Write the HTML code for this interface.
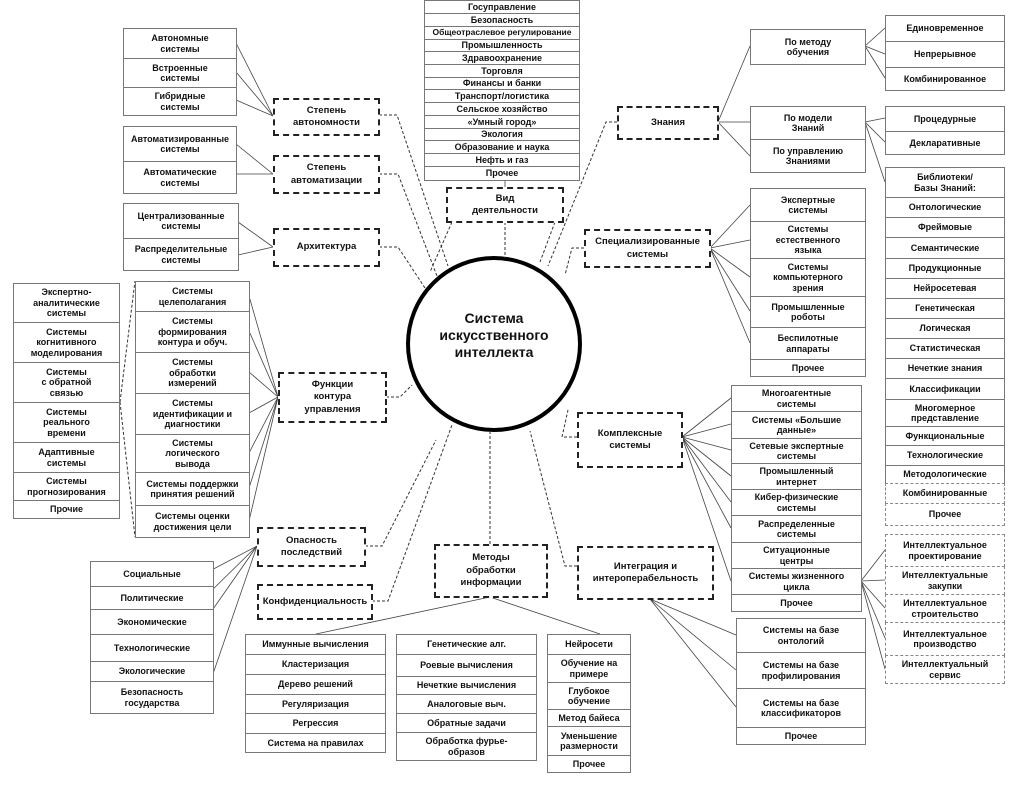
<!DOCTYPE html>
<html><head><meta charset="utf-8"><style>
body{margin:0;background:#fff}
#w{position:relative;width:1025px;height:786px;overflow:hidden;font-family:"Liberation Sans",Arial,sans-serif;font-weight:bold;font-size:9px;color:#111}
.c{position:absolute;box-sizing:border-box;border:1px solid #777;display:flex;align-items:center;justify-content:center;text-align:center;line-height:1.15;background:#fff}
.d{position:absolute;box-sizing:border-box;border:2px dashed #222;display:flex;align-items:center;justify-content:center;text-align:center;line-height:1.3;background:#fff;font-size:9.5px}
.g{border:1px dashed #888}
svg{position:absolute;left:0;top:0}
</style></head><body><div id="w">
<svg width="1025" height="786">
<circle cx="494" cy="344" r="86" fill="none" stroke="#000" stroke-width="4"/>
<g stroke="#333" stroke-width="1" fill="none" stroke-dasharray="3,2">
<polyline points="379,115 397,115 448,266"/>
<polyline points="379,174 398,174 437,276"/>
<polyline points="379,247 398,247 425,288"/>
<polyline points="386,397 400,397 412,385"/>
<polyline points="365,546 382,546 436,440"/>
<polyline points="372,601 388,601 452,425"/>
<polyline points="490,544 490,431"/>
<polyline points="452,222 430,272"/>
<polyline points="505,222 505,258"/>
<polyline points="555,222 540,262"/>
<polyline points="617,122 606,122 548,266"/>
<polyline points="584,248 572,248 565,275"/>
<polyline points="577,437 562,437 568,410"/>
<polyline points="577,566 565,566 530,431"/>
<polyline points="120,402 135,281"/>
<polyline points="120,402 135,537"/>
</g>
<g stroke="#444" stroke-width="0.8" fill="none">
<path d="M273,116L236,43M273,116L236,72M273,116L236,100"/>
<path d="M273,174L236,144M273,174L236,174"/>
<path d="M273,247L238,222M273,247L238,255"/>
<path d="M278,397L249,296M278,397L249,331M278,397L249,372M278,397L249,413M278,397L249,453M278,397L249,488M278,397L249,521"/>
<path d="M257,546L204,574M257,546L204,598M257,546L204,622M257,546L204,700"/>
<path d="M490,597L316,634M490,597L600,634"/>
<path d="M718,122L750,46M718,122L750,122M718,122L750,156"/>
<path d="M865,46L885,28M865,46L885,54M865,46L885,78"/>
<path d="M865,122L885,118M865,122L885,142M865,122L885,182"/>
<path d="M710,248L750,205M710,248L750,240M710,248L750,277M710,248L750,311M710,248L750,343"/>
<path d="M682,437L731,398M682,437L731,424M682,437L731,450M682,437L731,476M682,437L731,502M682,437L731,528M682,437L731,581"/>
<path d="M861,581L885,550M861,581L885,580M861,581L885,608M861,581L885,638M861,581L885,669"/>
<path d="M650,599L736,635M650,599L736,670M650,599L736,707"/>
<path d="M505,180L505,187"/>
</g>
</svg>

<!-- center -->
<div style="position:absolute;left:408;top:0"></div>
<div style="position:absolute;left:420px;top:310px;width:148px;text-align:center;font-size:14px;line-height:1.2;font-weight:bold">Система<br>искусственного<br>интеллекта</div>

<!-- left top groups -->
<div class="c" style="left:123px;top:28px;width:114px;height:31px">Автономные<br>системы</div>
<div class="c" style="left:123px;top:58px;width:114px;height:30px">Встроенные<br>системы</div>
<div class="c" style="left:123px;top:87px;width:114px;height:29px">Гибридные<br>системы</div>
<div class="c" style="left:123px;top:126px;width:114px;height:36px">Автоматизированные<br>системы</div>
<div class="c" style="left:123px;top:161px;width:114px;height:33px">Автоматические<br>системы</div>
<div class="c" style="left:123px;top:203px;width:116px;height:36px">Централизованные<br>системы</div>
<div class="c" style="left:123px;top:238px;width:116px;height:33px">Распределительные<br>системы</div>
<div class="d" style="left:273px;top:98px;width:107px;height:38px">Степень<br>автономности</div>
<div class="d" style="left:273px;top:155px;width:107px;height:39px">Степень<br>автоматизации</div>
<div class="d" style="left:273px;top:228px;width:107px;height:39px">Архитектура</div>

<!-- far left list -->
<div class="c" style="left:13px;top:283px;width:107px;height:40px">Экспертно-<br>аналитические<br>системы</div>
<div class="c" style="left:13px;top:322px;width:107px;height:41px">Системы<br>когнитивного<br>моделирования</div>
<div class="c" style="left:13px;top:362px;width:107px;height:41px">Системы<br>с обратной<br>связью</div>
<div class="c" style="left:13px;top:402px;width:107px;height:41px">Системы<br>реального<br>времени</div>
<div class="c" style="left:13px;top:442px;width:107px;height:31px">Адаптивные<br>системы</div>
<div class="c" style="left:13px;top:472px;width:107px;height:29px">Системы<br>прогнозирования</div>
<div class="c" style="left:13px;top:500px;width:107px;height:19px">Прочие</div>

<!-- middle list -->
<div class="c" style="left:135px;top:281px;width:115px;height:31px">Системы<br>целеполагания</div>
<div class="c" style="left:135px;top:311px;width:115px;height:42px">Системы<br>формирования<br>контура и обуч.</div>
<div class="c" style="left:135px;top:352px;width:115px;height:42px">Системы<br>обработки<br>измерений</div>
<div class="c" style="left:135px;top:393px;width:115px;height:42px">Системы<br>идентификации и<br>диагностики</div>
<div class="c" style="left:135px;top:434px;width:115px;height:39px">Системы<br>логического<br>вывода</div>
<div class="c" style="left:135px;top:472px;width:115px;height:34px">Системы поддержки<br>принятия решений</div>
<div class="c" style="left:135px;top:505px;width:115px;height:33px">Системы оценки<br>достижения цели</div>
<div class="d" style="left:278px;top:372px;width:109px;height:51px">Функции<br>контура<br>управления</div>

<!-- bottom left -->
<div class="d" style="left:257px;top:527px;width:109px;height:40px">Опасность<br>последствий</div>
<div class="d" style="left:257px;top:584px;width:116px;height:36px">Конфиденциальность</div>
<div class="c" style="left:90px;top:561px;width:124px;height:26px">Социальные</div>
<div class="c" style="left:90px;top:586px;width:124px;height:24px">Политические</div>
<div class="c" style="left:90px;top:609px;width:124px;height:26px">Экономические</div>
<div class="c" style="left:90px;top:634px;width:124px;height:28px">Технологические</div>
<div class="c" style="left:90px;top:661px;width:124px;height:21px">Экологические</div>
<div class="c" style="left:90px;top:681px;width:124px;height:33px">Безопасность<br>государства</div>

<!-- methods -->
<div class="d" style="left:434px;top:544px;width:114px;height:54px">Методы<br>обработки<br>информации</div>
<div class="c" style="left:245px;top:634px;width:141px;height:21px">Иммунные вычисления</div>
<div class="c" style="left:245px;top:654px;width:141px;height:21px">Кластеризация</div>
<div class="c" style="left:245px;top:674px;width:141px;height:21px">Дерево решений</div>
<div class="c" style="left:245px;top:694px;width:141px;height:20px">Регуляризация</div>
<div class="c" style="left:245px;top:713px;width:141px;height:21px">Регрессия</div>
<div class="c" style="left:245px;top:733px;width:141px;height:20px">Система на правилах</div>
<div class="c" style="left:396px;top:634px;width:141px;height:21px">Генетические алг.</div>
<div class="c" style="left:396px;top:654px;width:141px;height:23px">Роевые вычисления</div>
<div class="c" style="left:396px;top:676px;width:141px;height:19px">Нечеткие вычисления</div>
<div class="c" style="left:396px;top:694px;width:141px;height:20px">Аналоговые выч.</div>
<div class="c" style="left:396px;top:713px;width:141px;height:20px">Обратные задачи</div>
<div class="c" style="left:396px;top:732px;width:141px;height:29px">Обработка фурье-<br>образов</div>
<div class="c" style="left:547px;top:634px;width:84px;height:21px">Нейросети</div>
<div class="c" style="left:547px;top:654px;width:84px;height:29px">Обучение на<br>примере</div>
<div class="c" style="left:547px;top:682px;width:84px;height:28px">Глубокое<br>обучение</div>
<div class="c" style="left:547px;top:709px;width:84px;height:18px">Метод байеса</div>
<div class="c" style="left:547px;top:726px;width:84px;height:30px">Уменьшение<br>размерности</div>
<div class="c" style="left:547px;top:755px;width:84px;height:18px">Прочее</div>

<!-- top center list -->
<div class="c" style="left:424px;top:0px;width:156px;height:14px">Госуправление</div>
<div class="c" style="left:424px;top:13px;width:156px;height:14px">Безопасность</div>
<div class="c" style="left:424px;top:26px;width:156px;height:14px;font-size:8.5px">Общеотраслевое регулирование</div>
<div class="c" style="left:424px;top:39px;width:156px;height:13px">Промышленность</div>
<div class="c" style="left:424px;top:51px;width:156px;height:14px">Здравоохранение</div>
<div class="c" style="left:424px;top:64px;width:156px;height:14px">Торговля</div>
<div class="c" style="left:424px;top:77px;width:156px;height:13px">Финансы и банки</div>
<div class="c" style="left:424px;top:89px;width:156px;height:14px">Транспорт/логистика</div>
<div class="c" style="left:424px;top:102px;width:156px;height:14px">Сельское хозяйство</div>
<div class="c" style="left:424px;top:115px;width:156px;height:14px">«Умный город»</div>
<div class="c" style="left:424px;top:128px;width:156px;height:13px">Экология</div>
<div class="c" style="left:424px;top:140px;width:156px;height:14px">Образование и наука</div>
<div class="c" style="left:424px;top:153px;width:156px;height:14px">Нефть и газ</div>
<div class="c" style="left:424px;top:166px;width:156px;height:15px">Прочее</div>
<div class="d" style="left:446px;top:187px;width:118px;height:36px">Вид<br>деятельности</div>

<!-- right: knowledge -->
<div class="d" style="left:617px;top:106px;width:102px;height:34px">Знания</div>
<div class="c" style="left:750px;top:29px;width:116px;height:36px">По методу<br>обучения</div>
<div class="c" style="left:750px;top:106px;width:116px;height:34px">По модели<br>Знаний</div>
<div class="c" style="left:750px;top:139px;width:116px;height:34px">По управлению<br>Знаниями</div>
<div class="c" style="left:885px;top:15px;width:120px;height:27px">Единовременное</div>
<div class="c" style="left:885px;top:41px;width:120px;height:27px">Непрерывное</div>
<div class="c" style="left:885px;top:67px;width:120px;height:24px">Комбинированное</div>
<div class="c" style="left:885px;top:106px;width:120px;height:26px">Процедурные</div>
<div class="c" style="left:885px;top:131px;width:120px;height:24px">Декларативные</div>
<div class="c" style="left:885px;top:167px;width:120px;height:31px">Библиотеки/<br>Базы Знаний:</div>
<div class="c" style="left:885px;top:197px;width:120px;height:21px">Онтологические</div>
<div class="c" style="left:885px;top:217px;width:120px;height:21px">Фреймовые</div>
<div class="c" style="left:885px;top:237px;width:120px;height:22px">Семантические</div>
<div class="c" style="left:885px;top:258px;width:120px;height:21px">Продукционные</div>
<div class="c" style="left:885px;top:278px;width:120px;height:21px">Нейросетевая</div>
<div class="c" style="left:885px;top:298px;width:120px;height:21px">Генетическая</div>
<div class="c" style="left:885px;top:318px;width:120px;height:21px">Логическая</div>
<div class="c" style="left:885px;top:338px;width:120px;height:21px">Статистическая</div>
<div class="c" style="left:885px;top:358px;width:120px;height:21px">Нечеткие знания</div>
<div class="c" style="left:885px;top:378px;width:120px;height:22px">Классификации</div>
<div class="c" style="left:885px;top:399px;width:120px;height:28px">Многомерное<br>представление</div>
<div class="c" style="left:885px;top:426px;width:120px;height:20px">Функциональные</div>
<div class="c" style="left:885px;top:445px;width:120px;height:21px">Технологические</div>
<div class="c" style="left:885px;top:465px;width:120px;height:19px">Методологические</div>
<div class="c g" style="left:885px;top:483px;width:120px;height:21px">Комбинированные</div>
<div class="c g" style="left:885px;top:503px;width:120px;height:23px">Прочее</div>

<!-- specialized -->
<div class="d" style="left:584px;top:229px;width:127px;height:39px">Специализированные<br>системы</div>
<div class="c" style="left:750px;top:188px;width:116px;height:34px">Экспертные<br>системы</div>
<div class="c" style="left:750px;top:221px;width:116px;height:38px">Системы<br>естественного<br>языка</div>
<div class="c" style="left:750px;top:258px;width:116px;height:39px">Системы<br>компьютерного<br>зрения</div>
<div class="c" style="left:750px;top:296px;width:116px;height:32px">Промышленные<br>роботы</div>
<div class="c" style="left:750px;top:327px;width:116px;height:33px">Беспилотные<br>аппараты</div>
<div class="c" style="left:750px;top:359px;width:116px;height:18px">Прочее</div>

<!-- complex -->
<div class="d" style="left:577px;top:412px;width:106px;height:56px">Комплексные<br>системы</div>
<div class="c" style="left:731px;top:385px;width:131px;height:27px">Многоагентные<br>системы</div>
<div class="c" style="left:731px;top:411px;width:131px;height:28px">Системы «Большие<br>данные»</div>
<div class="c" style="left:731px;top:438px;width:131px;height:26px">Сетевые экспертные<br>системы</div>
<div class="c" style="left:731px;top:463px;width:131px;height:27px">Промышленный<br>интернет</div>
<div class="c" style="left:731px;top:489px;width:131px;height:27px">Кибер-физические<br>системы</div>
<div class="c" style="left:731px;top:515px;width:131px;height:28px">Распределенные<br>системы</div>
<div class="c" style="left:731px;top:542px;width:131px;height:27px">Ситуационные<br>центры</div>
<div class="c" style="left:731px;top:568px;width:131px;height:27px">Системы жизненного<br>цикла</div>
<div class="c" style="left:731px;top:594px;width:131px;height:18px">Прочее</div>

<div class="c g" style="left:885px;top:534px;width:120px;height:33px">Интеллектуальное<br>проектирование</div>
<div class="c g" style="left:885px;top:566px;width:120px;height:29px">Интеллектуальные<br>закупки</div>
<div class="c g" style="left:885px;top:594px;width:120px;height:29px">Интеллектуальное<br>строительство</div>
<div class="c g" style="left:885px;top:622px;width:120px;height:34px">Интеллектуальное<br>производство</div>
<div class="c g" style="left:885px;top:655px;width:120px;height:29px">Интеллектуальный<br>сервис</div>

<!-- integration -->
<div class="d" style="left:577px;top:546px;width:137px;height:54px">Интеграция и<br>интероперабельность</div>
<div class="c" style="left:736px;top:618px;width:130px;height:35px">Системы на базе<br>онтологий</div>
<div class="c" style="left:736px;top:652px;width:130px;height:37px">Системы на базе<br>профилирования</div>
<div class="c" style="left:736px;top:688px;width:130px;height:40px">Системы на базе<br>классификаторов</div>
<div class="c" style="left:736px;top:727px;width:130px;height:18px">Прочее</div>
</div></body></html>
